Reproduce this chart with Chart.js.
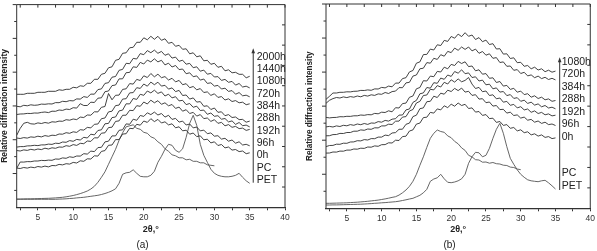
<!DOCTYPE html>
<html>
<head>
<meta charset="utf-8">
<script src="https://cdn.jsdelivr.net/npm/chart.js@4/dist/chart.umd.min.js"></script>
<style>
  body { margin: 0; background: #fff; }
  #wrap { position: relative; width: 597px; height: 251px; }
  canvas { position: absolute; top: 0; }
</style>
</head>
<body>
<div id="wrap">
  <canvas id="chart-a" width="297" height="251" style="left:0"></canvas>
  <canvas id="chart-b" width="300" height="251" style="left:297px"></canvas>
</div>
<script>
// XRD patterns, 2θ from 2 to 35 in 0.5° steps; intensities (arbitrary units)
const theta = [2, 2.5, 3, 3.5, 4, 4.5, 5, 5.5, 6, 6.5, 7, 7.5, 8, 8.5, 9, 9.5, 10, 10.5, 11, 11.5,
  12, 12.5, 13, 13.5, 14, 14.5, 15, 15.5, 16, 16.5, 17, 17.5, 18, 18.5, 19, 19.5, 20, 20.5, 21, 21.5,
  22, 22.5, 23, 23.5, 24, 24.5, 25, 25.5, 26, 26.5, 27, 27.5, 28, 28.5, 29, 29.5, 30, 30.5, 31, 31.5,
  32, 32.5, 33, 33.5, 34, 34.5, 35];

const xTickValues = [2.5, 5, 7.5, 10, 12.5, 15, 17.5, 20, 22.5, 25, 27.5, 30, 32.5, 35, 37.5, 40];

// panel (a)
const labelsA = ['2000h', '1440h', '1080h', '720h', '384h', '288h', '192h', '96h', '0h', 'PC', 'PET'];
const a2000h = [113, 113, 113, 114, 114, 114, 115, 115, 115, 116, 116, 116, 117.5, 117, 118, 118, 120, 119.5, 121.5, 121,
  124, 124, 128, 128, 133, 134, 139.5, 140.5, 147, 148, 154, 154.5, 159.5, 160, 165, 165, 169.5, 167.5, 171, 168,
  171, 167, 168.5, 164, 165, 161, 162, 158, 158.5, 153.5, 154.5, 150.5, 151.5, 146.5, 147, 143, 144, 140, 141, 136.5,
  137.5, 134.5, 135, 133, 133, 129.5, 131];
const a1440h = [101, 100.5, 102, 101.5, 102.5, 102, 102.3, 103.2, 103, 103.5, 103.3, 104.7, 104.6, 106, 105.6, 106.7, 106.4, 108.4, 108.2, 110.7,
  109.9, 113.2, 113.1, 117.7, 118.4, 123.9, 124.6, 130.1, 130.8, 137, 137.9, 144, 143.6, 148.9, 148.3, 153.7, 152.6, 156.7, 154.6, 157.2,
  154, 155.9, 152, 153.5, 149.2, 150.2, 146, 147.1, 143.1, 143.9, 139.6, 140.5, 136.1, 137.2, 133.1, 133.9, 130.3, 130.7, 126.9, 127.9,
  125, 125.9, 122.2, 123.8, 120.3, 121.1, 119.4];
const a1080h = [92.8, 93.3, 93.4, 93.9, 93.8, 94.3, 94.2, 94.9, 95.3, 94.7, 96.1, 96, 97.3, 96.9, 98.2, 97.8, 99.6, 99.2, 103.6, 101.8,
  101.8, 105.1, 104.8, 109.1, 109.5, 115.6, 116.3, 121.7, 122.3, 128.4, 128.5, 134.6, 134.9, 140.5, 139.9, 144.9, 143.3, 147.2, 145.4, 148.5,
  145.4, 147, 142.4, 144.1, 140.3, 141.8, 137.7, 138.3, 133.6, 134.5, 130.6, 131.4, 127.2, 128.3, 123.9, 124.5, 121.2, 121.9, 118.3, 119.1,
  115.9, 116.7, 113.1, 114.7, 111.5, 112.1, 110.5];
const a720h = [72, 79, 84, 85, 83.5, 83.2, 84.4, 83.8, 84.8, 84.1, 85.5, 85.2, 86.2, 86, 87.6, 87.1, 88.3, 87.7, 90.2, 89.8,
  92.3, 92.1, 95.5, 95.4, 100, 100.8, 113.8, 107.5, 112, 112.2, 117.9, 118.5, 123.7, 123.2, 127.9, 126.8, 131.5, 129.8, 133.8, 130.5,
  133.1, 129.6, 130.7, 127.3, 129, 125.4, 126.9, 122.6, 123.6, 119.6, 120.8, 117.5, 118.7, 114.8, 115.4, 111.9, 113.5, 109.9, 110.7, 107.3,
  108.5, 105.8, 106.7, 104.5, 105.1, 102.6, 103.5];
const a384h = [69.3, 68.8, 69.7, 69.2, 70.4, 70, 71.1, 70.4, 71.7, 71, 72.1, 71.8, 73.3, 73.1, 74.6, 74, 75.5, 74.9, 77.6, 77.2,
  79.9, 79.4, 83, 83.3, 88.6, 89.3, 95.4, 96.1, 101.7, 102.2, 108.2, 108.6, 114.4, 114.7, 119.6, 118.9, 123.3, 121.1, 125.2, 122.6,
  125.1, 121.2, 122, 118.2, 119.4, 115.7, 116.9, 111.8, 112.3, 108.2, 109.4, 105.2, 105.7, 101, 101.5, 97.8, 99.3, 95, 95.5, 91.6,
  92.7, 89.8, 90.3, 87.7, 87.9, 85.1, 86.2];
const a288h = [60.2, 60.7, 60.7, 61.4, 61.5, 62, 61.7, 62.4, 62.4, 63.2, 62.9, 64.1, 63.8, 65.3, 65, 66.7, 66, 67.9, 67.3, 70,
  69.3, 73.1, 72.4, 76.8, 77.5, 83.5, 83.9, 89.7, 90.3, 96.4, 97.2, 103.5, 103.4, 108.8, 107.9, 113, 112, 116.3, 114.4, 117.1,
  113.9, 115.4, 111.3, 113.1, 109.4, 110.6, 106.4, 107, 102.7, 103.8, 100, 101.1, 96.8, 97.2, 93, 94.3, 91, 91.6, 88.1, 88.8,
  85.4, 86.4, 82.9, 84.8, 81.6, 82.2, 80.4];
const a192h = [56.8, 56.3, 57.4, 56.9, 58, 57.3, 58.3, 57.7, 59.1, 58.3, 59.5, 59, 60.3, 60.1, 61.6, 61, 62.7, 61.9, 64, 63.6,
  66.3, 65.9, 69.5, 69.4, 74.1, 74.5, 79.7, 80.1, 85.9, 86.4, 92, 92.1, 97, 96.7, 101.6, 101, 105.3, 103.3, 107.1, 104.5,
  106.6, 103, 104.5, 101.5, 102.8, 98.9, 100.2, 96.1, 97.6, 93.8, 94.9, 91.2, 92.7, 88.7, 89.3, 85.9, 87.6, 84, 84.9, 81.5,
  82.7, 80, 80.9, 78.7, 79.2, 76.9, 77.9];
const a96h = [39, 45.3, 45.2, 45.7, 45.6, 46.3, 46.3, 46.9, 46.7, 47.2, 47, 48.3, 48.1, 49.4, 49, 50.5, 49.9, 51.3, 51.2, 53.6,
  53.2, 56.2, 55.7, 59.7, 60, 65.4, 66.1, 71.4, 71.4, 77, 77.5, 83.4, 83, 88.1, 87, 91.8, 90.9, 94.5, 92.7, 95.2,
  92.3, 93.8, 90.2, 92, 87.9, 88.9, 85.2, 86.2, 82.3, 83.3, 79.4, 80.3, 76.4, 77.2, 73.6, 74.4, 71.1, 71.6, 68.2, 69,
  66.1, 67.3, 64.1, 65.5, 62.3, 63, 61.5];
const a0h = [39.2, 38.8, 39.8, 39.2, 40.2, 39.6, 40.8, 40.2, 41.2, 40.4, 41.8, 41.6, 42.9, 42.4, 43.6, 43.2, 44.9, 44.3, 46.5, 46,
  48.5, 48.3, 51.5, 51.2, 55.9, 56.7, 62, 62.3, 67.7, 67.7, 73.2, 73.6, 79, 78.6, 83, 82.1, 86.3, 84.9, 88.6, 85.7,
  87.9, 84.3, 85.5, 82.4, 83.5, 79.5, 80.5, 76.5, 77.1, 73.1, 74.3, 70.7, 71.5, 67.5, 68.1, 64.4, 65.5, 61.8, 62.8, 59.4,
  60.3, 57.2, 57.8, 55.7, 56.3, 53.6, 54.5];
const aPC = [8.3, 8.3, 8.4, 8.5, 8.5, 8.6, 8.7, 8.8, 8.9, 9, 9.2, 9.4, 9.7, 10, 10.5, 11.1, 11.8, 12.7, 13.7, 14.9,
  16.3, 18.3, 21, 25, 30, 35.5, 43, 50.5, 58, 67, 74.5, 80.5, 81.5, 82.5, 79, 78, 75, 74, 70.5, 69,
  65.5, 63, 58.5, 56, 52.5, 51.5, 49.5, 49.5, 47.5, 48, 46, 46, 44.5, 44.5, 42.5, 42, 41.5, null, null, null,
  null, null, null, null, null, null, null];
const aPET = [8, 8, 8, 8, 8, 8, 8, 8, 8, 8, 8, 8, 8.2, 8.3, 8.5, 8.8, 9, 9.4, 9.7, 10,
  10.5, 11, 11.5, 12, 12.8, 13.8, 15, 16.5, 18.5, 24, 33, 34.5, 35, 37.5, 34, 31, 30.5, 30.5, 32, 36,
  45, 51, 58, 63, 62, 57, 55, 58.5, 70, 84, 92, 82, 63, 52, 45, 38, 34, 32, 31, 30.5,
  30.5, 31, 32, 34, 30, 26.5, 24];

// panel (b)
const labelsB = ['1080h', '720h', '384h', '288h', '192h', '96h', '0h', 'PC', 'PET'];
const b1080h = [109, 112, 115.3, 115.3, 116, 116, 116.5, 116.4, 117, 117.1, 117.9, 117.8, 118.4, 118, 119.4, 119.3, 120.9, 120.4, 122.2, 121.5,
  125.2, 125.2, 129.7, 130.6, 136.4, 137.8, 145.1, 146.4, 153.7, 153.9, 159.2, 158.3, 163.5, 162.8, 167.9, 166.9, 171.8, 170.1, 174.2, 171.7,
  175.6, 172, 173.3, 168.8, 170.7, 166.6, 168.2, 163.8, 164.6, 159.3, 159.6, 154.2, 154.5, 149.8, 150.5, 145.6, 146, 142, 142.8, 139.5,
  141.1, 138.3, 139.5, 136.6, 138.1, 136.1, 137.2];
const b720h = [105, 108, 109.7, 110.8, 110.3, 111.4, 110.7, 111.7, 111.1, 112.3, 111.5, 112.9, 112.2, 113.5, 112.9, 114.4, 114, 115.8, 114.8, 116.7,
  117.2, 120.7, 120.6, 125.4, 126, 132.2, 133.3, 139.5, 140.1, 145.7, 145.1, 150, 148.9, 153.6, 152.1, 156.9, 155.7, 160.2, 158, 161.3,
  158.9, 161.3, 157.4, 159.2, 155, 156.8, 153.1, 154.5, 150, 150.7, 145.8, 146.4, 142, 142.3, 138, 138.7, 134.8, 136, 132.4, 133.4,
  130.6, 132.2, 129.7, 131, 128.8, 130, 128.4];
const b384h = [90.9, 90.4, 90.8, 90.9, 91.6, 91.5, 92, 91.9, 92.5, 92.5, 93.3, 93, 93.7, 93.5, 94.9, 94.5, 96.1, 95.8, 97.5, 96.5,
  100.6, 100.3, 104.7, 105.2, 111, 112.3, 119.5, 120.8, 127.6, 127.3, 132.2, 131.6, 136.9, 136.3, 141.1, 139.5, 143.9, 142.8, 146.9, 144.8,
  146.5, 141.7, 142.3, 137.5, 138.5, 134.1, 134.7, 130, 130.5, 125.8, 126.8, 122.2, 122.9, 118.9, 120, 116.1, 117.2, 113.7, 114.6, 111.1,
  112.5, 109.8, 111.1, 108.5, 109.4, 107, 107.8];
const b288h = [81.4, 81.9, 81.3, 82.4, 81.8, 83, 82.5, 83.7, 83, 84.3, 83.6, 84.8, 83.9, 85.3, 85.1, 86.7, 86.1, 87.9, 87.2, 89.1,
  89.6, 93.2, 93.3, 98.4, 99.3, 105.9, 107.9, 114.5, 115.4, 120.8, 120.1, 125.6, 125, 130.2, 129, 133.3, 131.9, 136.8, 135.1, 138.5,
  134.6, 135.4, 130.8, 131.5, 127.3, 128.2, 123.5, 124.1, 119.5, 120.4, 116.2, 116.8, 112.7, 113.7, 109.9, 110.6, 107, 108.1, 104.9, 106.1,
  103.2, 104.4, 101.5, 102.8, 100.3, 101.1, 99.5];
const b192h = [72.5, 72.6, 73.7, 73.8, 74.9, 74.8, 75.8, 75.8, 77.1, 77.1, 78.4, 78, 79.3, 79, 80.5, 80.4, 82.4, 82.4, 84.1, 83.8,
  87.1, 87.2, 91.2, 91.7, 97.3, 98.8, 105.3, 106.9, 112.8, 113.3, 119, 118.4, 122.7, 121.3, 126, 124.3, 128.5, 126.2, 129.4, 126.5,
  127.9, 130.8, 124.2, 119.8, 120.9, 116.6, 117.3, 112.8, 113.5, 109.5, 110.3, 106.1, 106.9, 103, 103.9, 100.4, 101.6, 98.4, 99.3, 96,
  97.4, 94.8, 95.9, 93.5, 94.4, 92.4, 93.1];
const b96h = [61.7, 62.8, 62.9, 64.1, 64, 65.1, 65, 66.3, 66.4, 67.6, 67.4, 68.7, 68.3, 69.7, 69.6, 71.2, 71.2, 73.2, 72.7, 75.3,
  75.7, 79, 79.1, 84, 85.2, 91.7, 93.1, 99.6, 100.4, 106.6, 107, 112.1, 110.8, 115.1, 114.1, 118.1, 116.8, 119.9, 117.7, 120.2,
  116.2, 117, 112.9, 113.6, 109.2, 109.6, 105.6, 106.3, 102.2, 102.8, 98.7, 99, 95.2, 96.1, 92.8, 93.4, 90.2, 91.2, 88.1, 88.9,
  86.1, 87.3, 84.9, 86.1, 83.7, 84.3, 82.8];
const b0h = [55.2, 55.3, 56.3, 56.2, 57.2, 57.1, 58.2, 58.2, 59.3, 59.1, 60.1, 59.9, 61.3, 61.1, 62.4, 62, 63.6, 63.7, 65.5, 65.3,
  68.1, 67.8, 71.7, 72.1, 77.3, 78.4, 84.2, 85.2, 90.7, 91.1, 95.9, 95.2, 99.4, 98.4, 102.5, 100.7, 104.1, 102.1, 105.3, 102.8,
  104, 99.8, 100.4, 96.2, 96.8, 92.9, 93.7, 89.7, 90.1, 85.9, 86.8, 82.9, 83.7, 80, 80.8, 77.4, 78.5, 75.6, 76.5, 73.4,
  74.5, 72.2, 73.4, 70.9, 71.7, 69.7, 70.4];
const bPC = [5, 5, 5.1, 5.2, 5.3, 5.4, 5.5, 5.7, 5.9, 6.1, 6.4, 6.7, 7, 7.4, 7.8, 8.2, 8.8, 9.4, 10.1, 10.9,
  11.6, 13.2, 15.5, 18.3, 22, 27, 34, 43, 51.5, 61, 70, 75, 78.3, 76.8, 76, 72.4, 70.6, 66.9, 64.5, 60.4,
  57.9, 53, 51.4, 48.6, 48.3, 46.1, 46.3, 45.1, 45.8, 44.6, 44.3, 43.1, 42.8, 41.2, 40.8, 39.3, 38.6, null, null, null,
  null, null, null, null, null, null, null];
const bPET = [3.3, 3.3, 3.4, 3.4, 3.5, 3.6, 3.7, 3.8, 3.9, 4, 4.1, 4.3, 4.5, 4.7, 5, 5.2, 5.5, 5.7, 6, 6.3,
  6.6, 7.1, 7.8, 8.5, 9.3, 10, 11.5, 13, 15.5, 19, 27, 29.3, 30.5, 34, 29.5, 26, 25.6, 26.3, 27.5, 29.5,
  34, 45, 51.6, 56, 55.5, 51.5, 53, 60, 70, 79, 85, 75, 61.6, 50, 44, 38.5, 34, 31, 28.5, 27.5,
  27, 26.6, 27.5, 28, 25.5, 22.5, 19.3];

const FONT = '"Liberation Sans", Arial, sans-serif';
const INK = '#333';

function trace(values, color, width) {
    return {
        data: theta.map((t, i) => ({ x: t, y: values[i] })),
        borderColor: color,
        borderWidth: width,
        pointRadius: 0,
        tension: 0,
        fill: false,
        spanGaps: false
    };
}

// box frame: left ticks outward (major/minor), right + top ticks inward
const frameTicks = {
    id: 'frameTicks',
    afterDraw(chart) {
        const { ctx, chartArea: a, scales: { x } } = chart;
        ctx.save();
        ctx.strokeStyle = INK;
        ctx.lineWidth = 1;
        ctx.beginPath();
        ctx.moveTo(a.left, a.bottom); ctx.lineTo(a.left, a.top);
        ctx.lineTo(a.right, a.top); ctx.lineTo(a.right, a.bottom);
        for (let i = 1; i <= 12; i++) {
            const y = a.bottom - a.height * i / 12;
            const len = i % 2 ? 2.5 : 4;
            ctx.moveTo(a.left - len, y); ctx.lineTo(a.left, y);
        }
        for (let i = 1; i < 10; i++) {
            const y = a.bottom - a.height * i / 10;
            ctx.moveTo(a.right - 3, y); ctx.lineTo(a.right, y);
        }
        x.ticks.forEach(t => {
            const px = x.getPixelForValue(t.value);
            ctx.moveTo(px, a.top); ctx.lineTo(px, a.top + 3);
        });
        ctx.stroke();
        ctx.restore();
    }
};

// arrow + ageing-time labels at the right of each panel
const ageLabels = {
    id: 'ageLabels',
    afterDatasetsDraw(chart, args, opts) {
        const { ctx, scales: { x, y } } = chart;
        const ax = x.getPixelForValue(opts.arrowX);
        const yTop = y.getPixelForValue(opts.arrowTop);
        const yBot = y.getPixelForValue(opts.arrowBottom);
        ctx.save();
        ctx.strokeStyle = INK;
        ctx.fillStyle = INK;
        ctx.lineWidth = 1;
        ctx.beginPath();
        ctx.moveTo(ax, yBot); ctx.lineTo(ax, yTop + 3);
        ctx.stroke();
        ctx.beginPath();
        ctx.moveTo(ax, yTop - 1); ctx.lineTo(ax - 1.8, yTop + 4); ctx.lineTo(ax + 1.8, yTop + 4);
        ctx.closePath();
        ctx.fill();
        ctx.fillStyle = '#222';
        ctx.font = '10.5px ' + FONT;
        ctx.textBaseline = 'middle';
        ctx.textAlign = 'left';
        const tx = x.getPixelForValue(opts.textX);
        opts.labels.forEach((t, i) => ctx.fillText(t, tx, y.getPixelForValue(opts.labelY[i])));
        ctx.restore();
    }
};

function makeChart(id, cfg) {
    return new Chart(document.getElementById(id), {
        type: 'line',
        data: { datasets: cfg.series },
        plugins: [frameTicks, ageLabels],
        options: {
            responsive: false,
            animation: false,
            devicePixelRatio: 1,
            events: [],
            layout: { padding: cfg.padding },
            plugins: {
                legend: { display: false },
                tooltip: { enabled: false },
                title: {
                    display: true, text: cfg.caption, position: 'bottom', padding: 0, color: '#222',
                    font: { family: FONT, size: 10, weight: 'normal', lineHeight: 1.2 }
                },
                ageLabels: cfg.ageLabels
            },
            scales: {
                x: {
                    type: 'linear', min: 2, max: 40,
                    afterBuildTicks: s => { s.ticks = xTickValues.map(v => ({ value: v })); },
                    afterFit: s => { s.height = cfg.xAxisH; },
                    grid: { drawOnChartArea: false, drawTicks: true, tickLength: 3, color: INK, lineWidth: 1 },
                    border: { display: true, color: INK, width: 1.2 },
                    ticks: {
                        color: INK, padding: 2, maxRotation: 0, autoSkip: false,
                        font: { family: FONT, size: 8.5 },
                        callback: v => (v % 5 === 0 ? String(v) : '')
                    },
                    title: {
                        display: true, text: '2θ,°', color: '#222',
                        font: { family: FONT, size: 9, weight: 'bold', lineHeight: 1.2 },
                        padding: { top: 0, bottom: 3.6 }
                    }
                },
                y: {
                    min: 0, max: cfg.yMax,
                    afterFit: s => { s.width = cfg.yAxisW; },
                    grid: { display: false },
                    border: { display: false },
                    ticks: { display: false },
                    title: {
                        display: true, text: 'Relative diffraction intensity', color: '#222',
                        font: { family: FONT, size: cfg.yTitleSize, weight: 'bold', lineHeight: 1 },
                        padding: 0
                    }
                }
            }
        }
    });
}

const agedColor = '#2e2e2e';
const refColor = '#555';

makeChart('chart-a', {
    caption: '(a)',
    padding: { left: 0, right: 12, top: 4.6, bottom: 0 },
    xAxisH: 31.7, yAxisW: 16.7, yMax: 202.7, yTitleSize: 8.5,
    series: [a2000h, a1440h, a1080h, a720h, a384h, a288h, a192h, a96h, a0h].map(s => trace(s, agedColor, 0.9))
        .concat([trace(aPC, refColor, 0.9), trace(aPET, refColor, 0.9)]),
    ageLabels: {
        arrowX: 35.5, arrowTop: 158, arrowBottom: 24.6, textX: 36.0, labels: labelsA,
        labelY: [150.6, 138.3, 126, 113.6, 101.3, 89, 76.6, 64.3, 52, 39.6, 27.3]
    }
});

makeChart('chart-b', {
    caption: '(b)',
    padding: { left: 9, right: 4, top: 4, bottom: 0 },
    xAxisH: 30.7, yAxisW: 20, yMax: 204.3, yTitleSize: 8.2,
    series: [b1080h, b720h, b384h, b288h, b192h, b96h, b0h].map(s => trace(s, agedColor, 0.9))
        .concat([trace(bPC, refColor, 0.9), trace(bPET, refColor, 0.9)]),
    ageLabels: {
        arrowX: 35.6, arrowTop: 150, arrowBottom: 18.3, textX: 35.9, labels: labelsB,
        labelY: [146.3, 133.8, 121.3, 108.8, 96.3, 83.8, 71.3, 35.3, 22.3]
    }
});
</script>
</body>
</html>
